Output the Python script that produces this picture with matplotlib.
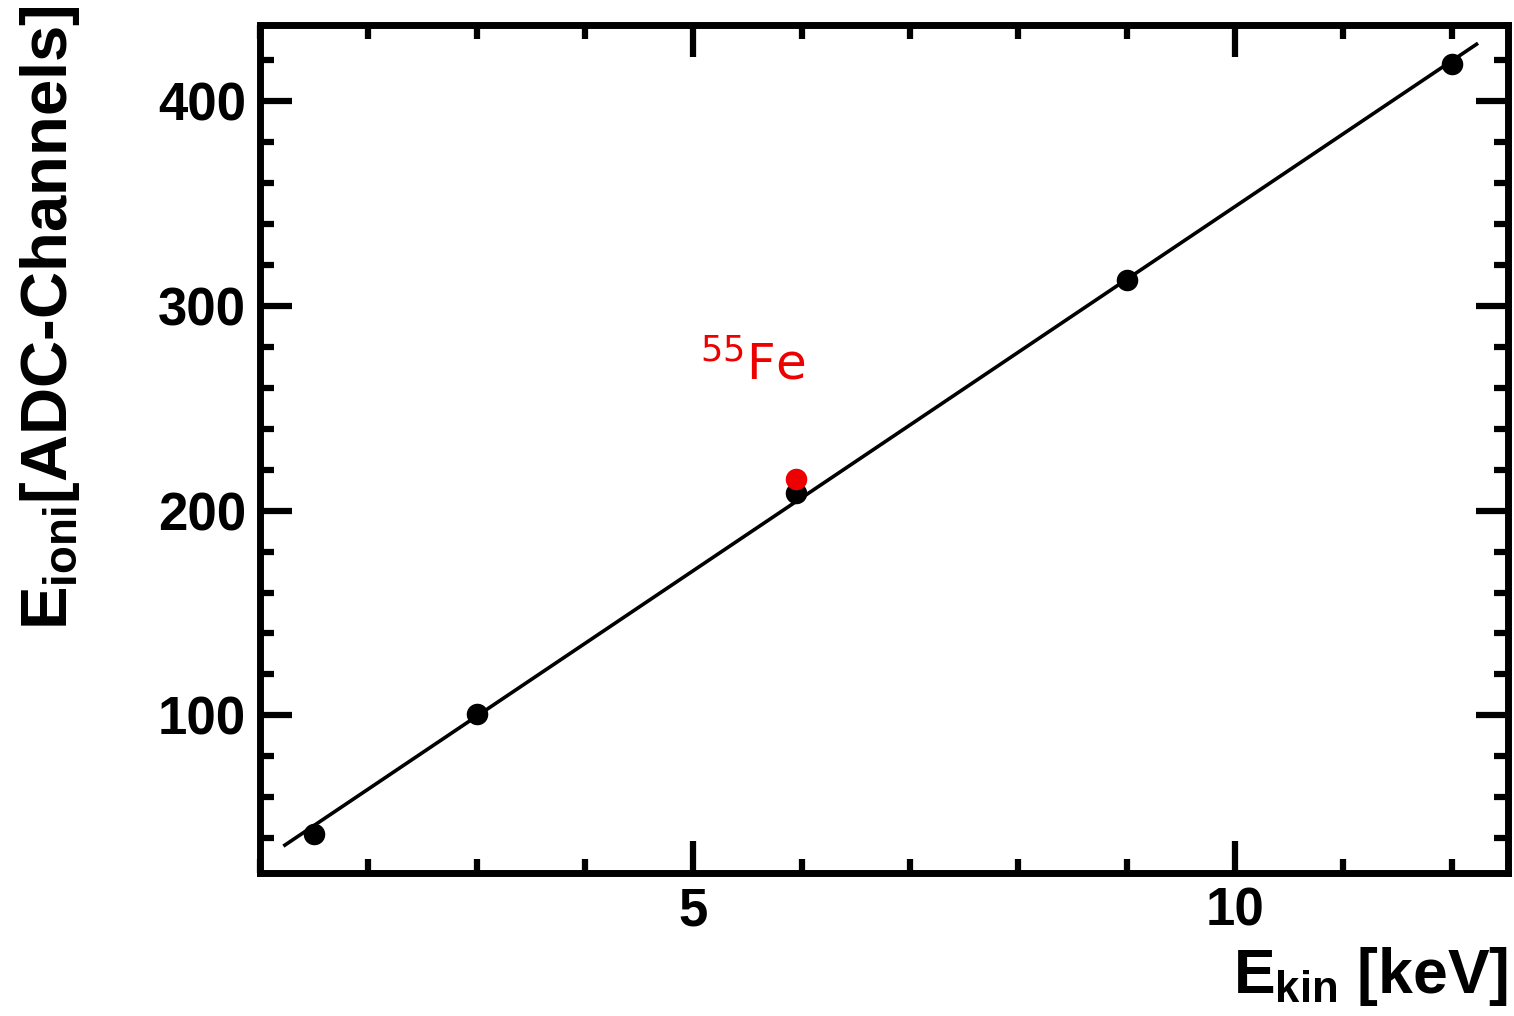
import matplotlib
matplotlib.use('Agg')
import matplotlib.pyplot as plt
from matplotlib.ticker import MultipleLocator

plt.rcParams['font.family'] = ['Liberation Sans', 'DejaVu Sans']
plt.rcParams['mathtext.fontset'] = 'custom'
plt.rcParams['mathtext.rm'] = 'Liberation Sans:bold'
plt.rcParams['mathtext.bf'] = 'Liberation Sans:bold'
plt.rcParams['mathtext.it'] = 'Liberation Sans:bold'

# measured points (keV, ADC channels)
e_kin = [1.5, 3.0, 5.95, 9.0, 12.0]
e_ioni = [42, 100.5, 208.8, 312.7, 418]

# 55Fe reference point
fe_x = [5.95]
fe_y = [215.6]

# linear fit
fit_x = [1.23, 12.23]
fit_slope = 35.56
fit_offset = -7.1
fit_y = [fit_slope * v + fit_offset for v in fit_x]

fig = plt.figure(figsize=(15.14, 10.16), dpi=100)
ax = fig.add_axes([0.1717, 0.1407, 0.8243, 0.8343])

ax.plot(fit_x, fit_y, color='black', lw=2.6, zorder=2)
ax.plot(e_kin, e_ioni, 'o', color='black', ms=14.5, zorder=3)
ax.plot(fe_x, fe_y, 'o', color='#ee0000', ms=14.5, zorder=4)

ax.text(5.06, 264, r'$^{55}$Fe', color='#ee0000', fontsize=36,
        family='DejaVu Sans', math_fontfamily='dejavusans')

ax.set_xlim(1.0, 12.52)
ax.set_ylim(23, 437)

ax.xaxis.set_major_locator(MultipleLocator(5))
ax.xaxis.set_minor_locator(MultipleLocator(1))
ax.yaxis.set_major_locator(MultipleLocator(100))
ax.yaxis.set_minor_locator(MultipleLocator(20))

ax.tick_params(which='both', direction='in', top=True, right=True, width=4.5)
ax.tick_params(which='major', length=23, labelsize=38, pad=10)
ax.tick_params(which='minor', length=10)
for lab in ax.get_xticklabels() + ax.get_yticklabels():
    lab.set_fontweight('bold')
for sp in ax.spines.values():
    sp.set_linewidth(5)

fig.text(0.996, 0.008, r'$E_{kin}$ [keV]', ha='right', va='bottom',
         fontsize=45, fontweight='bold')
fig.text(0.012, 0.995, r'$E_{ioni}$[ADC-Channels]', ha='left', va='top',
         rotation=90, fontsize=47, fontweight='bold')

fig.savefig('out.png', dpi=100)
